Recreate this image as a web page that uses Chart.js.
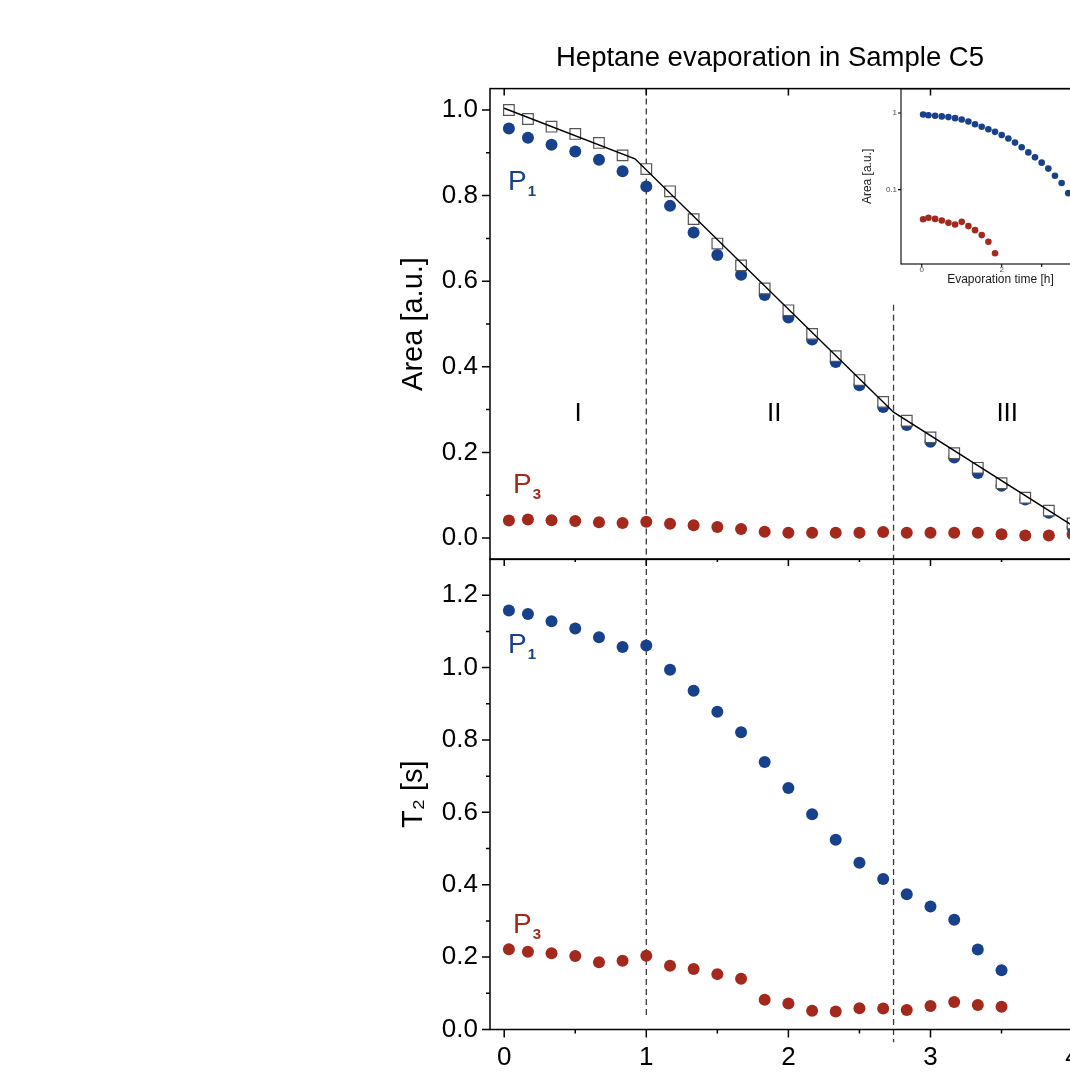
<!DOCTYPE html>
<html><head><meta charset="utf-8">
<script src="https://cdn.jsdelivr.net/npm/chart.js@4.4.1/dist/chart.umd.min.js"></script>
<style>
html,body{margin:0;padding:0;background:#fff;overflow:hidden;}
#wrap{position:relative;width:1070px;height:1079px;overflow:hidden;background:#fff;}
canvas{position:absolute;}
</style></head><body>
<div id="wrap">
<canvas id="top" width="1143" height="587" style="left:0;top:0;width:1143px;height:587px"></canvas>
<canvas id="bot" width="1107" height="620" style="left:0;top:500px;width:1107px;height:620px"></canvas>
<canvas id="ins" width="270" height="220" style="left:840px;top:80px;width:270px;height:220px"></canvas>
</div>
<script>
// ---------------- data ----------------
const times = [0.033, 0.167, 0.333, 0.5, 0.667, 0.833, 1.0, 1.167, 1.333, 1.5, 1.667, 1.833, 2.0,
               2.167, 2.333, 2.5, 2.667, 2.833, 3.0, 3.167, 3.333, 3.5, 3.667, 3.833, 4.0];
const areaP1 = [0.957, 0.935, 0.919, 0.903, 0.884, 0.857, 0.821, 0.776, 0.714, 0.661, 0.615, 0.568, 0.515,
                0.464, 0.411, 0.357, 0.306, 0.264, 0.225, 0.188, 0.152, 0.122, 0.090, 0.059, 0.024];
const areaTotal = [1.0, 0.979, 0.961, 0.944, 0.923, 0.894, 0.862, 0.810, 0.745, 0.688, 0.637, 0.583, 0.532,
                   0.477, 0.425, 0.369, 0.318, 0.274, 0.235, 0.198, 0.164, 0.128, 0.094, 0.064, 0.034];
const areaP3 = [0.041, 0.043, 0.0415, 0.0395, 0.037, 0.035, 0.038, 0.0334, 0.0296, 0.0255, 0.0209, 0.0148, 0.012,
                0.012, 0.012, 0.012, 0.014, 0.012, 0.012, 0.012, 0.012, 0.009, 0.006, 0.006, 0.009];
const t2P1 = [1.158, 1.148, 1.128, 1.108, 1.084, 1.057, 1.061, 0.994, 0.936, 0.878, 0.821, 0.739, 0.667,
              0.595, 0.524, 0.461, 0.416, 0.374, 0.340, 0.303, 0.221, 0.164];
const t2P3 = [0.222, 0.215, 0.211, 0.203, 0.186, 0.190, 0.204, 0.176, 0.167, 0.153, 0.140, 0.082, 0.072,
              0.052, 0.050, 0.059, 0.058, 0.054, 0.065, 0.076, 0.068, 0.063];
const fitX = [0, 0.92, 2.74, 4.1];
const fitY = [1.004, 0.886, 0.294, 0.008];
const regionBounds = [1.0, 2.74];
const regionNames = ['I', 'II', 'III'];
const regionCenters = [0.52, 1.9, 3.54];
const xTicks = [0, 1, 2, 3, 4];
const xMinorTicks = [0.5, 1.5, 2.5, 3.5];
const areaTicks = [0, 0.2, 0.4, 0.6, 0.8, 1.0];
const areaMinorTicks = [0.1, 0.3, 0.5, 0.7, 0.9];
const t2Ticks = [0, 0.2, 0.4, 0.6, 0.8, 1.0, 1.2];
const t2MinorTicks = [0.1, 0.3, 0.5, 0.7, 0.9, 1.1];
const insetXTicks = [0, 2, 3];
const insetXLabels = ['0', '2', ''];
const insetYTicks = [0.1, 1];
const insetYLabels = ['0.1', '1'];
const insetP3Count = 12;

// ---------------- style ----------------
const FONT = '"Liberation Sans", Arial, Helvetica, sans-serif';
const BLUE = '#17418b', RED = '#a3291d';
const X_MIN = -0.1, X_MAX = 4.2;
const AREA_MIN = -0.05, AREA_MAX = 1.05;
const T2_MIN = 0, T2_MAX = 1.3;

const pts = (xs, ys) => ys.map((y, i) => ({x: xs[i], y}));

function frameTicks(spec) {
  return {
    id: 'frameTicks',
    afterDraw(chart) {
      const {ctx, chartArea: a} = chart;
      ctx.save();
      ctx.strokeStyle = '#000';
      ctx.lineWidth = spec.lineWidth;
      ctx.strokeRect(a.left, a.top, a.right - a.left, a.bottom - a.top);
      ctx.beginPath();
      for (const t of spec.ticks) {
        const sc = chart.scales[t.scale];
        for (const v of t.values) {
          const p = sc.getPixelForValue(v);
          if (t.edge === 'left') { ctx.moveTo(a.left, p); ctx.lineTo(a.left - t.len, p); }
          else if (t.edge === 'top') { ctx.moveTo(p, a.top); ctx.lineTo(p, a.top - t.len); }
          else if (t.edge === 'bottom') { ctx.moveTo(p, a.bottom); ctx.lineTo(p, a.bottom + t.len); }
        }
      }
      ctx.stroke();
      ctx.restore();
    }
  };
}

function panelText(items) {
  return {
    id: 'panelText',
    afterDatasetsDraw(chart) {
      const {ctx} = chart;
      const xs = chart.scales.x, ys = chart.scales.y;
      ctx.save();
      for (const l of items) {
        const px = xs.getPixelForValue(l.x), py = ys.getPixelForValue(l.y);
        ctx.fillStyle = l.color;
        ctx.font = `normal ${l.size}px ${FONT}`;
        ctx.textAlign = l.align || 'left';
        ctx.textBaseline = l.baseline || 'alphabetic';
        ctx.fillText(l.text, px, py);
        if (l.sub) {
          const w = ctx.measureText(l.text).width;
          ctx.font = `bold ${l.subSize}px ${FONT}`;
          ctx.textAlign = 'left';
          ctx.fillText(l.sub, px + w + 1, py + l.subDrop);
        }
      }
      ctx.restore();
    }
  };
}

const dashStyle = {showLine: true, pointRadius: 0, borderColor: '#3a3a3a', borderWidth: 1.3, borderDash: [6, 4], order: 4, clip: false};
const noGrid = {display: false, drawTicks: false};
const noBorder = {display: false};
const tickFont = {family: FONT, size: 26};
const titleFont = {family: FONT, size: 29};

const romanItems = regionNames.map((n, i) => ({text: n, x: regionCenters[i], y: 0.289, color: '#000', size: 26, align: 'center', baseline: 'middle'}));

// ---------------- top panel ----------------
new Chart(document.getElementById('top'), {
  type: 'scatter',
  data: {datasets: [
    {label: 'fit', data: pts(fitX, fitY), showLine: true, borderColor: '#000', borderWidth: 1.5, pointRadius: 0, order: 0},
    {label: 'total', data: pts(times, areaTotal), pointStyle: 'rect', pointRadius: 7.5, backgroundColor: '#fff', borderColor: '#555', borderWidth: 1.2, order: 1},
    {label: 'P1', data: pts(times, areaP1), pointRadius: 6, backgroundColor: BLUE, borderWidth: 0, order: 2},
    {label: 'P3', data: pts(times, areaP3), pointRadius: 6, backgroundColor: RED, borderWidth: 0, order: 3},
    {...dashStyle, data: [{x: regionBounds[0], y: AREA_MAX}, {x: regionBounds[0], y: AREA_MIN}]},
    {...dashStyle, data: [{x: regionBounds[1], y: 0.545}, {x: regionBounds[1], y: AREA_MIN}]}
  ]},
  options: {
    responsive: false, animation: false, events: [],
    layout: {padding: {left: 397, top: 0, right: 0, bottom: 0}},
    plugins: {
      legend: {display: false}, tooltip: {enabled: false},
      title: {display: true, text: 'Heptane evaporation in Sample C5', color: '#000',
              font: {family: FONT, size: 27.5, weight: 'normal'}, padding: {top: 41.5, bottom: 14.1}}
    },
    scales: {
      x: {type: 'linear', min: X_MIN, max: X_MAX, display: false},
      y: {type: 'linear', position: 'left', min: AREA_MIN, max: AREA_MAX,
          afterFit: s => { s.width = 93; },
          afterBuildTicks: s => { s.ticks = areaTicks.map(v => ({value: v})); },
          grid: noGrid, border: noBorder,
          ticks: {font: tickFont, color: '#000', padding: 12, callback: v => Number(v).toFixed(1)},
          title: {display: true, text: 'Area [a.u.]', font: titleFont, color: '#000', padding: 0}},
      yR: {type: 'linear', position: 'right', display: true, grid: noGrid, border: noBorder,
           ticks: {display: false}, afterFit: s => { s.width = 42; }}
    }
  },
  plugins: [
    frameTicks({lineWidth: 1.5, ticks: [
      {scale: 'y', edge: 'left', values: areaTicks, len: 8},
      {scale: 'y', edge: 'left', values: areaMinorTicks, len: 4},
      {scale: 'x', edge: 'top', values: xTicks, len: -7}
    ]}),
    panelText([
      {text: 'P', sub: '1', x: 0.027, y: 0.812, color: BLUE, size: 28, subSize: 15, subDrop: 6},
      {text: 'P', sub: '3', x: 0.062, y: 0.106, color: RED, size: 28, subSize: 15, subDrop: 6},
      ...romanItems
    ])
  ]
});

// ---------------- bottom panel ----------------
new Chart(document.getElementById('bot'), {
  type: 'scatter',
  data: {datasets: [
    {label: 'P1', data: pts(times, t2P1), pointRadius: 6, backgroundColor: BLUE, borderWidth: 0, order: 2},
    {label: 'P3', data: pts(times, t2P3), pointRadius: 6, backgroundColor: RED, borderWidth: 0, order: 3},
    {...dashStyle, data: [{x: regionBounds[0], y: T2_MAX}, {x: regionBounds[0], y: 0.035}]},
    {...dashStyle, data: [{x: regionBounds[1], y: T2_MAX}, {x: regionBounds[1], y: -0.035}]}
  ]},
  options: {
    responsive: false, animation: false, events: [],
    layout: {padding: {left: 397, top: 59, right: 0, bottom: 0}},
    plugins: {legend: {display: false}, tooltip: {enabled: false}},
    scales: {
      x: {type: 'linear', min: X_MIN, max: X_MAX,
          afterFit: s => { s.height = 90.5; },
          afterBuildTicks: s => { s.ticks = xTicks.map(v => ({value: v})); },
          grid: noGrid, border: noBorder,
          ticks: {font: tickFont, color: '#000', padding: 13, maxRotation: 0, autoSkip: false, callback: v => String(v)}},
      y: {type: 'linear', position: 'left', min: T2_MIN, max: T2_MAX,
          afterFit: s => { s.width = 93; },
          afterBuildTicks: s => { s.ticks = t2Ticks.map(v => ({value: v})); },
          grid: noGrid, border: noBorder,
          ticks: {font: tickFont, color: '#000', padding: 12, callback: v => Number(v).toFixed(1)},
          title: {display: true, text: 'T₂ [s]', font: titleFont, color: '#000', padding: 0}}
    }
  },
  plugins: [
    frameTicks({lineWidth: 1.5, ticks: [
      {scale: 'y', edge: 'left', values: t2Ticks, len: 8},
      {scale: 'y', edge: 'left', values: t2MinorTicks, len: 4},
      {scale: 'x', edge: 'bottom', values: xTicks, len: 8},
      {scale: 'x', edge: 'bottom', values: xMinorTicks, len: 4},
      {scale: 'x', edge: 'top', values: xTicks, len: -7},
      {scale: 'x', edge: 'top', values: xMinorTicks, len: -3}
    ]}),
    panelText([
      {text: 'P', sub: '1', x: 0.027, y: 1.040, color: BLUE, size: 28, subSize: 15, subDrop: 6},
      {text: 'P', sub: '3', x: 0.062, y: 0.267, color: RED, size: 28, subSize: 15, subDrop: 6}
    ])
  ]
});

// ---------------- inset ----------------
new Chart(document.getElementById('ins'), {
  type: 'scatter',
  data: {datasets: [
    {label: 'P1', data: pts(times, areaP1), pointRadius: 3.3, backgroundColor: BLUE, borderWidth: 0},
    {label: 'P3', data: pts(times.slice(0, insetP3Count), areaP3.slice(0, insetP3Count)), pointRadius: 3.3, backgroundColor: RED, borderWidth: 0}
  ]},
  options: {
    responsive: false, animation: false, events: [],
    layout: {padding: {left: 20.5, top: 8, right: 10, bottom: 0}},
    plugins: {legend: {display: false}, tooltip: {enabled: false}},
    scales: {
      x: {type: 'linear', min: -0.52, max: 4.46,
          afterFit: s => { s.height = 36; },
          afterBuildTicks: s => { s.ticks = insetXTicks.map(v => ({value: v})); },
          grid: noGrid, border: noBorder,
          ticks: {font: {family: FONT, size: 8}, color: '#4d4d4d', padding: 1, maxRotation: 0, autoSkip: false,
                  callback: (v, i) => insetXLabels[i]},
          title: {display: true, text: 'Evaporation time [h]', font: {family: FONT, size: 12}, color: '#1a1a1a', padding: {top: 0, bottom: 12.8}}},
      y: {type: 'logarithmic', min: 0.0107, max: 2.07,
          afterFit: s => { s.width = 40.5; },
          afterBuildTicks: s => { s.ticks = insetYTicks.map(v => ({value: v})); },
          grid: noGrid, border: noBorder,
          ticks: {font: {family: FONT, size: 8}, color: '#4d4d4d', padding: 4, callback: (v, i) => insetYLabels[i]},
          title: {display: true, text: 'Area [a.u.]', font: {family: FONT, size: 12}, color: '#1a1a1a', padding: 0}}
    }
  },
  plugins: [
    frameTicks({lineWidth: 1.1, ticks: [
      {scale: 'x', edge: 'bottom', values: insetXTicks, len: 3},
      {scale: 'y', edge: 'left', values: insetYTicks, len: 3}
    ]})
  ]
});
</script>
</body></html>
